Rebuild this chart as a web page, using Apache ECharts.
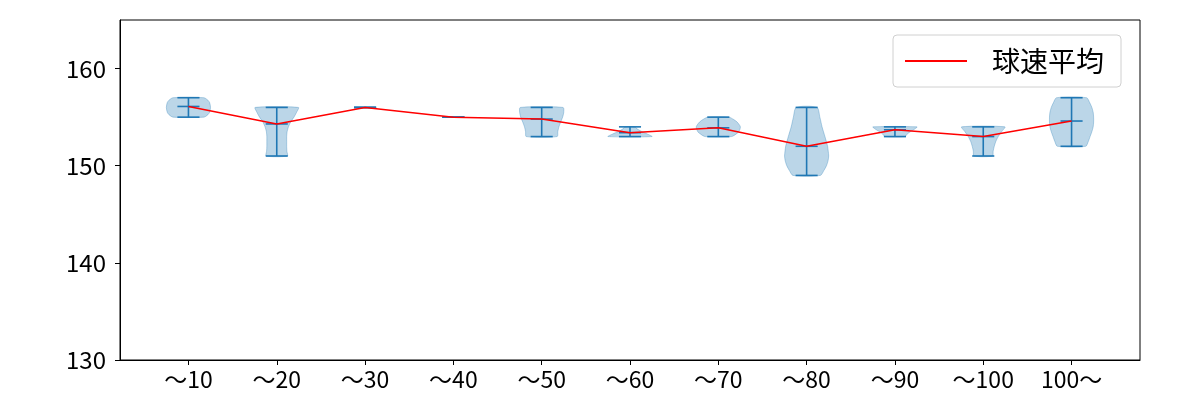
<!DOCTYPE html>
<html>
<head>
<meta charset="utf-8">
<script src="https://cdn.jsdelivr.net/npm/echarts@6/dist/echarts.min.js"></script>
<style>html,body{margin:0;padding:0;background:#fff;}#c{width:1200px;height:400px;}</style>
</head>
<body>
<div id="c"></div>
<script>
const categories = ['〜10','〜20','〜30','〜40','〜50','〜60','〜70','〜80','〜90','〜100','100〜'];
const positions = [1,2,3,4,5,6,7,8,9,10,11];
const means = [156.1,154.3,156.0,155.0,154.8,153.4,153.9,152.0,153.7,153.0,154.6];
const mins = [155,151,156,155,153,153,153,149,153,151,152];
const maxs = [157,156,156,155,156,154,155,156,154,154,157];
const yTicks = [130,140,150,160];
// relative violin density (0..1) at speed levels
const profiles = [
  [[155,0.70],[155.25,0.88],[155.5,0.96],[156,1.0],[156.5,0.96],[156.75,0.88],[157,0.70]],
  [[151,0.48],[151.5,0.46],[152,0.45],[152.5,0.45],[153,0.45],[153.5,0.47],[154,0.53],[154.5,0.63],[155,0.78],[155.5,0.9],[156,0.98]],
  [],
  [],
  [[153,0.70],[153.5,0.73],[154,0.78],[154.5,0.86],[155,0.95],[155.5,1.0],[156,0.97]],
  [[153,1.0],[153.25,0.8],[153.5,0.55],[153.75,0.35],[154,0.2]],
  [[153,0.6],[153.25,0.8],[153.5,0.93],[154,1.0],[154.5,0.85],[154.75,0.7],[155,0.48]],
  [[149,0.62],[149.5,0.78],[150,0.9],[150.5,0.97],[151,1.0],[151.5,0.98],[152,0.95],[153,0.83],[154,0.7],[155,0.6],[156,0.47]],
  [[153,0.45],[153.25,0.55],[153.5,0.7],[153.75,0.88],[154,1.0]],
  [[151,0.42],[151.5,0.45],[152,0.5],[152.5,0.57],[153,0.68],[153.5,0.83],[154,0.98]],
  [[152,0.64],[152.5,0.76],[153,0.84],[153.5,0.92],[154,0.98],[154.5,1.0],[155,1.0],[155.5,0.98],[156,0.92],[156.5,0.82],[157,0.68]]
];

const BLUE = '#1f77b4';
const FONT = 'Noto Sans CJK JP';
const halfWidth = 0.25, capHalf = 0.125;

const violinData = positions.map((p, i) => [p, mins[i], maxs[i], means[i]]);
const meanData = positions.map((p, i) => [p, means[i]]);

function renderViolin(params, api) {
  const i = params.dataIndex;
  const pos = api.value(0), lo = api.value(1), hi = api.value(2), mu = api.value(3);
  const children = [];
  const prof = profiles[i];
  if (prof.length) {
    const right = prof.map(d => api.coord([pos + halfWidth * d[1], d[0]]));
    const left = prof.slice().reverse().map(d => api.coord([pos - halfWidth * d[1], d[0]]));
    children.push({
      type: 'polygon',
      shape: { points: right.concat(left), smooth: 0.25 },
      style: { fill: 'rgba(31,119,180,0.3)', stroke: 'rgba(31,119,180,0.3)', lineWidth: 1 }
    });
  }
  const ls = { stroke: BLUE, lineWidth: 1.6 };
  const a = api.coord([pos, lo]), b = api.coord([pos, hi]);
  children.push({ type: 'line', shape: { x1: a[0], y1: a[1], x2: b[0], y2: b[1] }, style: ls });
  [lo, hi, mu].forEach(v => {
    const l = api.coord([pos - capHalf, v]), r = api.coord([pos + capHalf, v]);
    children.push({ type: 'line', shape: { x1: l[0], y1: l[1], x2: r[0], y2: r[1] }, style: ls });
  });
  return { type: 'group', children };
}

const chart = echarts.init(document.getElementById('c'), null, { renderer: 'canvas' });
chart.setOption({
  animation: false,
  backgroundColor: '#fff',
  textStyle: { fontFamily: FONT },
  grid: { left: 120, right: 60, top: 20, bottom: 40, show: true, borderColor: '#000', borderWidth: 1, backgroundColor: 'transparent' },
  xAxis: {
    type: 'value', min: 0.225, max: 11.775,
    axisLine: { show: true, lineStyle: { color: '#000', width: 1 } },
    axisTick: { show: true, length: 5, lineStyle: { color: '#000' }, customValues: positions },
    axisLabel: { show: true, color: '#000', fontSize: 23, fontFamily: FONT, margin: 8,
      customValues: positions, formatter: v => categories[Math.round(v) - 1] },
    splitLine: { show: false }
  },
  yAxis: {
    type: 'value', min: 130, max: 165,
    axisLine: { show: true, lineStyle: { color: '#000', width: 1 } },
    axisTick: { show: true, length: 5, lineStyle: { color: '#000' }, customValues: yTicks },
    axisLabel: { show: true, color: '#000', fontSize: 24, fontFamily: FONT, margin: 14, customValues: yTicks },
    splitLine: { show: false }
  },
  legend: {
    show: true, left: 893, top: 35,
    orient: 'vertical',
    padding: [12, 17, 12, 12],
    borderColor: '#d0d0d0', borderWidth: 1, borderRadius: 4,
    backgroundColor: 'rgba(255,255,255,0.8)',
    itemWidth: 62, itemHeight: 2,
    data: [{ name: '球速平均', icon: 'rect' }],
    textStyle: { fontSize: 28, color: '#000', fontFamily: FONT, padding: [0, 0, 0, 20] }
  },
  series: [
    { type: 'custom', name: 'violin', renderItem: renderViolin, data: violinData, z: 2,
      encode: { x: 0, y: [1, 2, 3] }, silent: true },
    { type: 'line', name: '球速平均', data: meanData, z: 3, symbol: 'none',
      lineStyle: { color: '#ff0000', width: 1.5 }, itemStyle: { color: '#ff0000' } }
  ]
});
</script>
</body>
</html>
